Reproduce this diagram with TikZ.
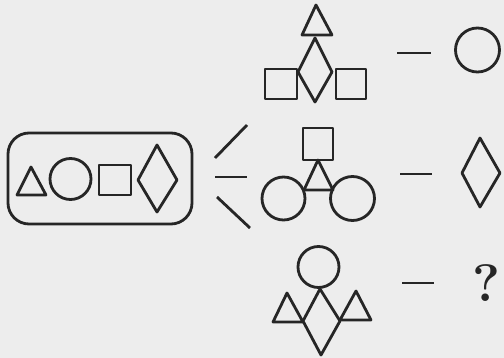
\documentclass[tikz,border=0pt]{standalone}
\usepackage{tikz}
\usetikzlibrary{positioning}

\tikzset{
  fig/.style={draw=black!85, line width=1.6pt, line join=round},
  dashmark/.style={draw=black!85, line width=1.6pt},
}

\begin{document}
\begin{tikzpicture}[x=0.02cm, y=-0.02cm]
\fill[black!7] (0,0) rectangle (504,358);
\useasboundingbox (0,0) rectangle (504,358);

% set of four shapes
\draw[fig, rounded corners=12] (8,133) rectangle (192,224);
\draw[fig] (17,195) -- (31,167) -- (46,195) -- cycle;
\draw[fig] (70.5,179) circle[radius=20.5];
\draw[fig] (99,165) rectangle (131,195);
\draw[fig] (157,145) -- (177,180) -- (157,212) -- (138,180) -- cycle;

\coordinate (s1a) at (215,158); \coordinate (s1b) at (247,125);
\coordinate (s2a) at (215,177); \coordinate (s2b) at (247,177);
\coordinate (s3a) at (217,197); \coordinate (s3b) at (250,228);
\draw[dashmark] (s1a) -- (s1b);
\draw[dashmark] (s2a) -- (s2b);
\draw[dashmark] (s3a) -- (s3b);

% top figure
\draw[fig] (302,35) -- (316,5) -- (332,35) -- cycle;
\draw[fig] (315,38) -- (332,72) -- (315,102) -- (298,72) -- cycle;
\draw[fig] (265,69) rectangle (297,99);
\draw[fig] (336,69) rectangle (366,99);

% middle figure
\draw[fig] (303,128) rectangle (333,160);
\draw[fig] (304,190) -- (318,160) -- (333,190) -- cycle;
\draw[fig] (283.5,198.5) circle[radius=21.5];
\draw[fig] (352.5,198.5) circle[radius=22];

% bottom figure
\draw[fig] (318.5,267) circle[radius=20.5];
\draw[fig] (320,289) -- (340,321) -- (321,355) -- (303,321) -- cycle;
\draw[fig] (273,322) -- (287,293) -- (303,322) -- cycle;
\draw[fig] (340,320) -- (356,291) -- (371,320) -- cycle;

% answers
\draw[dashmark] (397,53) -- (431,53);
\draw[dashmark] (400,174) -- (432,174);
\draw[dashmark] (402,283) -- (434,283);
\draw[fig] (477.5,50) circle[radius=22];
\draw[fig] (480,138) -- (500,173) -- (480,207) -- (462,173) -- cycle;
\node[font=\fontsize{30}{30}\selectfont\bfseries, text=black!85] (q) at (486,283) {?};
\end{tikzpicture}
\end{document}
